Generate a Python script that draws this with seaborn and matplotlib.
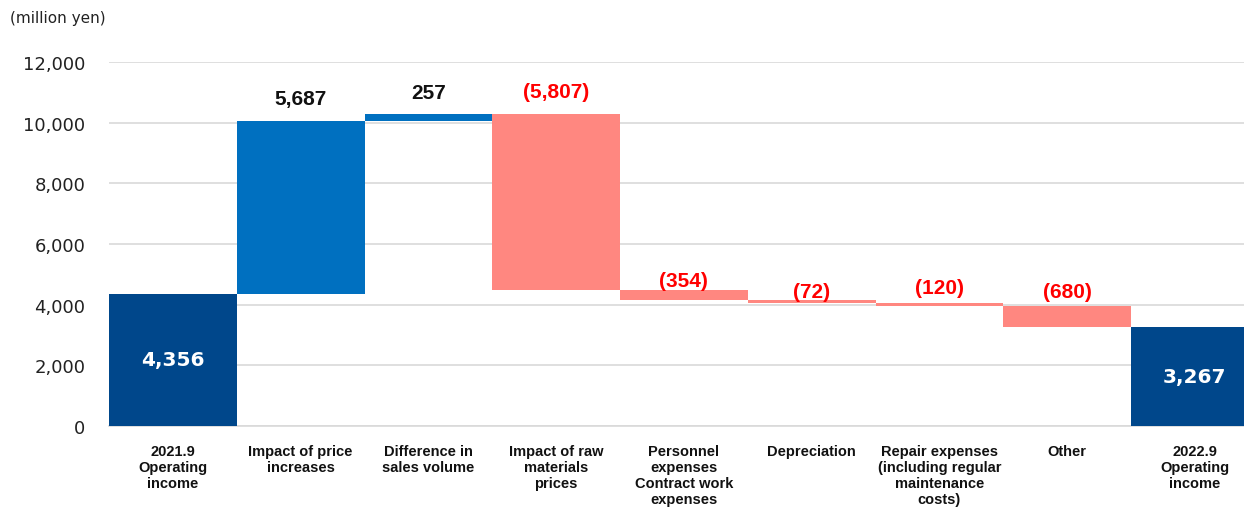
import numpy as np
import pandas as pd
import matplotlib
matplotlib.use("Agg")
import matplotlib.pyplot as plt
import seaborn as sns

# ---- data ----
categories = [
    "2021.9\nOperating\nincome",
    "Impact of price\nincreases",
    "Difference in\nsales volume",
    "Impact of raw\nmaterials\nprices",
    "Personnel\nexpenses\nContract work\nexpenses",
    "Depreciation",
    "Repair expenses\n(including regular\nmaintenance\ncosts)",
    "Other",
    "2022.9\nOperating\nincome",
]
start_value = 4356
changes = [5687, 257, -5807, -354, -72, -120, -680]
end_value = 3267
y_ticks = [0, 2000, 4000, 6000, 8000, 10000, 12000]
unit_label = "(million yen)"

# ---- waterfall geometry from data ----
cum = np.concatenate([[start_value], start_value + np.cumsum(changes)])
deltas = [start_value] + changes + [end_value]
bottoms = [0.0]
heights = [start_value]
for i, d in enumerate(changes):
    lo = min(cum[i], cum[i + 1])
    bottoms.append(lo)
    heights.append(abs(d))
bottoms.append(0.0)
heights.append(end_value)
tops = [b + h for b, h in zip(bottoms, heights)]

kinds = ["total"] + ["up" if d > 0 else "down" for d in changes] + ["total"]
color_map = {"total": "#00478B", "up": "#0070C0", "down": "#FF8780"}
colors = [color_map[k] for k in kinds]

df = pd.DataFrame({"category": categories, "height": heights})

sns.set_theme(style="white")
plt.rcParams["font.family"] = ["DejaVu Sans"]

fig = plt.figure(figsize=(12.44, 5.10), dpi=100)
ax_w = 9 * 127.75
ax = fig.add_axes([109 / 1244, 83 / 510, ax_w / 1244, 364 / 510])

sns.barplot(data=df, x="category", y="height", hue="category",
            palette=colors, legend=False, width=1.0, saturation=1,
            linewidth=0, ax=ax, zorder=3)

for patch, b in zip(ax.patches, bottoms):
    patch.set_y(b)

ax.set_xlim(-0.5, len(categories) - 0.5)
ax.set_ylim(0, 12000)
ax.set_yticks(y_ticks)
ax.set_yticklabels([f"{v:,}" for v in y_ticks], fontsize=13, color="#222222")
ax.yaxis.grid(True, color="#D9D9D9", linewidth=1.2, zorder=0)
ax.set_axisbelow(True)
ax.tick_params(axis="y", length=0, pad=17)
ax.tick_params(axis="x", length=0, pad=13)
ax.set_xlabel("")
ax.set_ylabel("")
for s in ["top", "right", "left"]:
    ax.spines[s].set_visible(False)
ax.spines["bottom"].set_color("#D9D9D9")
ax.spines["bottom"].set_linewidth(1.2)

ax.set_xticks(range(len(categories)))
ax.set_xticklabels(categories, fontsize=10.5, fontweight="bold",
                   family="Liberation Sans", linespacing=1.18, color="#111111",
                   va="top")

# value labels
offsets_px = [0, 23, 21, 22, 9, 9, 15, 15, 0]
for i, (d, k) in enumerate(zip(deltas, kinds)):
    if k == "total":
        ax.text(i, bottoms[i] + heights[i] / 2, f"{d:,}", ha="center", va="center",
                color="white", fontsize=14.5, fontweight="bold", family="DejaVu Sans",
                zorder=5)
    elif k == "up":
        ax.annotate(f"{d:,}", (i, tops[i]), xytext=(0, offsets_px[i] / 1.389),
                    textcoords="offset points", ha="center", va="center",
                    color="#111111", fontsize=15, fontweight="bold",
                    family="Liberation Sans", annotation_clip=False)
    else:
        ax.annotate(f"({abs(d):,})", (i, tops[i]), xytext=(0, offsets_px[i] / 1.389),
                    textcoords="offset points", ha="center", va="center",
                    color="#FF0000", fontsize=15, fontweight="bold",
                    family="Liberation Sans", annotation_clip=False)

fig.text(10 / 1244, 1 - 19 / 510, unit_label, fontsize=11, va="center",
         ha="left", color="#222222")

fig.savefig("out.png", dpi=100)
